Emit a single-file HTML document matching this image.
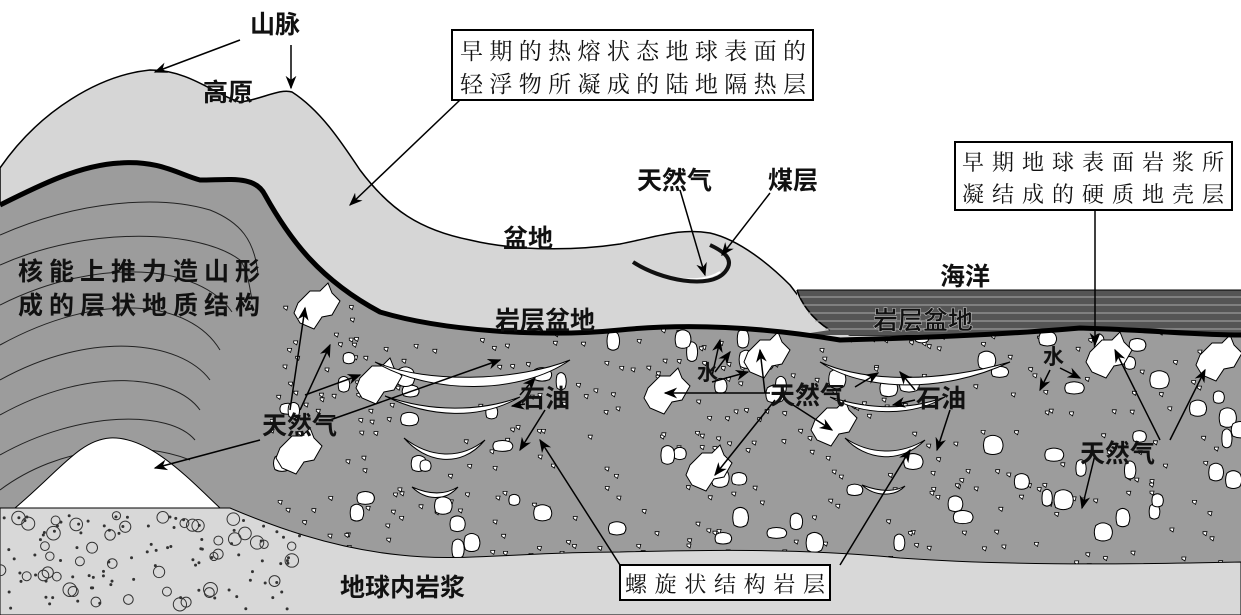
<!DOCTYPE html>
<html><head><meta charset="utf-8"><style>
html,body{margin:0;padding:0;background:#fff}
svg{display:block}
text{font-family:"Liberation Sans","Noto Sans CJK SC",sans-serif;font-weight:bold;fill:#111}
.bx{font-family:"Liberation Serif","Noto Serif CJK SC",serif;font-weight:normal}
</style></head><body>
<svg id="s" width="1241" height="615" viewBox="0 0 1241 615" xmlns="http://www.w3.org/2000/svg">
<defs>
<marker id="a" viewBox="0 0 10 10" refX="9" refY="5" markerWidth="9" markerHeight="9" orient="auto-start-reverse"><path d="M0,1 L10,5 L0,9 L3,5z" fill="#000"/></marker>
<clipPath id="crust"><path d="M270,200 C300,250 330,290 400,318 C460,333 560,336 620,330 C700,322 780,330 840,340 C920,338 1000,335 1080,328 C1150,330 1200,335 1241,335 L1241,562 C1100,565 1000,565 900,558 C800,548 700,550 620,552 C520,552 460,562 400,555 C330,548 270,525 230,508 L270,450z"/></clipPath>
<clipPath id="magc"><path d="M0,508 L230,508 C270,525 330,548 400,555 C460,562 520,552 620,552 L620,615 L0,615z"/></clipPath>
</defs>
<rect width="1241" height="615" fill="#fff"/>
<path d="M0,168 C40,110 100,75 150,70 C190,70 215,95 240,102 C260,100 280,88 292,92 C320,110 340,140 360,170 C390,210 420,230 470,240 C520,252 580,250 620,244 C660,236 680,228 710,233 C740,240 770,265 790,285 C805,305 820,325 850,335 L1241,335 L1241,615 L0,615z" fill="#d6d6d6" stroke="#000" stroke-width="1.5"/>
<rect x="797" y="290" width="444" height="45" fill="#555"/>
<path d="M797,290 C800,300 810,318 830,330 L797,335z" fill="#d6d6d6"/>
<path d="M797,290 C800,300 810,318 830,330" fill="none" stroke="#000" stroke-width="1.5"/>
<g stroke="#aaa" stroke-width="1"><line x1="800" y1="297" x2="1241" y2="297"/><line x1="803" y1="305" x2="1241" y2="305"/><line x1="808" y1="313" x2="1241" y2="313"/><line x1="815" y1="321" x2="1241" y2="321"/><line x1="825" y1="329" x2="1241" y2="329"/></g>
<line x1="797" y1="290" x2="1241" y2="290" stroke="#000"/>
<path d="M0,205 C40,185 80,165 120,163 C160,160 180,175 200,180 C230,180 255,175 265,195 C290,240 320,280 380,312 C440,330 540,338 620,330 C700,322 780,330 840,340 C920,338 1000,335 1080,328 C1150,330 1200,335 1241,335 L1241,562 C1100,565 1000,565 900,558 C800,548 700,550 620,552 C520,552 460,562 400,555 C330,548 270,525 230,508 L0,508z" fill="#9c9c9c"/>
<g fill="none" stroke="#222" stroke-width="1">
<path d="M0,235 C80,200 160,195 210,210 C240,222 255,240 258,275"/>
<path d="M0,265 C90,225 200,230 240,260 C248,270 250,290 252,300"/>
<path d="M0,305 C100,255 200,265 232,312"/>
<path d="M0,345 C100,290 190,300 220,350"/>
<path d="M0,380 C90,330 180,340 210,380"/>
<path d="M0,415 C90,365 175,375 200,410"/>
<path d="M0,455 C80,410 170,410 195,440"/>
<path d="M0,490 C60,445 140,440 190,460"/>
</g>
<g id="rocks" clip-path="url(#crust)"></g>
<path d="M15,508 C60,470 80,440 110,438 C150,436 190,480 220,508z" fill="#fff" stroke="#000"/>
<path d="M0,508 L230,508 C270,525 330,548 400,555 C460,562 520,552 620,552 C700,550 800,548 900,558 C1000,565 1100,565 1241,562 L1241,615 L0,615z" fill="#d8d8d8" stroke="#000" stroke-width="1"/>
<g id="mag" fill="none" stroke="#333" stroke-width="1" clip-path="url(#magc)"></g>
<path d="M0,205 C40,185 80,165 120,163 C160,160 180,175 200,180 C230,180 255,175 265,195 C290,240 320,280 380,312 C440,330 540,338 620,330 C700,322 780,330 840,340 C920,338 1000,335 1080,328 C1150,330 1200,335 1241,335" fill="none" stroke="#000" stroke-width="5"/>
<g fill="#fff" stroke="#000" stroke-width="1">
<path d="M375,362 C430,385 520,380 570,360 C520,395 430,395 375,362z"/>
<path d="M385,396 C430,412 480,412 520,397 C480,420 430,418 385,396z"/>
<path d="M404,438 C430,458 460,460 485,440 C460,470 425,462 404,438z"/>
<path d="M412,487 C430,495 445,495 458,487 C445,502 425,500 412,487z"/>
<path d="M820,362 C860,380 930,385 1010,362 C940,395 860,390 820,362z"/>
<path d="M830,397 C870,410 910,410 945,397 C910,418 860,415 830,397z"/>
<path d="M845,438 C870,455 900,455 925,440 C900,465 865,460 845,438z"/>
<path d="M862,485 C880,492 895,492 905,486 C895,497 875,497 862,485z"/>
</g>
<path d="M633,262 C660,280 700,285 720,272" fill="none" stroke="#fff" stroke-width="2"/>
<path d="M633,262 C660,280 710,290 725,272 C735,260 725,252 710,245" fill="none" stroke="#111" stroke-width="4"/>
<g stroke="#000" stroke-width="1.5" fill="none" marker-end="url(#a)">
<path d="M240,40 L155,72"/><path d="M291,45 L291,88"/>
<path d="M460,100 L350,205"/>
<path d="M1095,210 L1095,345"/>
<path d="M680,190 L705,275"/><path d="M770,193 L722,255"/>
<path d="M290,410 L305,308"/><path d="M300,410 L330,345"/>
<path d="M305,395 L360,375"/><path d="M330,420 L500,360"/>
<path d="M260,440 L155,468"/>
<path d="M520,395 L535,378"/><path d="M525,404 L512,406"/><path d="M545,410 L520,450"/>
<path d="M620,565 L540,440"/>
<path d="M840,565 L910,450"/>
<path d="M770,393 L665,393"/><path d="M765,393 L760,350"/><path d="M775,400 L715,475"/><path d="M790,403 L832,430"/>
<path d="M855,387 L878,373"/><path d="M915,390 L900,372"/><path d="M915,400 L893,405"/><path d="M950,410 L937,450"/>
<path d="M712,376 L720,340"/><path d="M715,372 L730,352"/><path d="M712,382 L748,372"/>
<path d="M1050,370 L1040,390"/><path d="M1060,368 L1080,378"/>
<path d="M1160,440 L1115,350"/><path d="M1170,440 L1205,370"/>
<path d="M1095,455 L1082,508"/>
</g>
<rect x="452" y="30" width="361" height="70" fill="#fff" stroke="#000" stroke-width="2"/>
<text class="bx" x="460" y="59" font-size="23" textLength="346">早期的热熔状态地球表面的</text>
<text class="bx" x="460" y="92" font-size="23" textLength="346">轻浮物所凝成的陆地隔热层</text>
<rect x="955" y="142" width="277" height="68" fill="#fff" stroke="#000" stroke-width="2"/>
<text class="bx" x="962" y="170" font-size="22" textLength="262">早期地球表面岩浆所</text>
<text class="bx" x="962" y="202" font-size="22" textLength="262">凝结成的硬质地壳层</text>
<rect x="620" y="565" width="210" height="35" fill="#fff" stroke="#000" stroke-width="2"/>
<text class="bx" x="625" y="592" font-size="22" textLength="200">螺旋状结构岩层</text>
<g font-size="25">
<text x="250" y="33">山脉</text>
<text x="203" y="101">高原</text>
<text x="503" y="247">盆地</text>
<text x="637" y="189">天然气</text>
<text x="768" y="189">煤层</text>
<text x="940" y="285">海洋</text>
<text x="18" y="280" textLength="242">核能上推力造山形</text>
<text x="18" y="314" textLength="242">成的层状地质结构</text>
<text x="495" y="329">岩层盆地</text>
<text x="873" y="329" fill="#222" stroke="#bbb" stroke-width="0.6">岩层盆地</text>
<text x="262" y="434">天然气</text>
<text x="520" y="407">石油</text>
<text x="770" y="404">天然气</text>
<text x="916" y="407">石油</text>
<text x="1080" y="462">天然气</text>
<text x="697" y="380" font-size="21">水</text>
<text x="1043" y="364" font-size="21">水</text>
<text x="340" y="596">地球内岩浆</text>
</g>
</svg>
<script>
(function(){
var seed=7;function r(){seed=(seed*9301+49297)%233280;return seed/233280;}
var g=document.getElementById('rocks'),m=document.getElementById('mag'),s="";
for(var i=0;i<380;i++){var x=270+r()*971,y=300+r()*265;s+='<path d="M'+x.toFixed(1)+','+y.toFixed(1)+' l4,0 l-1,4 l-3,-2z" fill="#fff" stroke="#000" stroke-width="0.8"/>';}
for(var i=0;i<80;i++){var x=270+r()*971,y=330+r()*220,w=8+r()*8,h=8+r()*7;
s+='<path d="M'+x+','+y+' q'+w/2+','+(-h*0.4)+' '+w+',0 q'+w*0.3+','+h/2+' 0,'+h+' q'+(-w/2)+','+h*0.3+' '+(-w)+',0 q'+(-w*0.2)+','+(-h/2)+' 0,'+(-h)+'z" fill="#fff" stroke="#000" stroke-width="1"/>';}
var big=[[298,293],[360,368],[648,378],[748,342],[815,410],[690,455],[1090,342],[1200,345],[280,438]];
big.forEach(function(p){var x=p[0],y=p[1];s+='<path d="M'+x+','+(y+10)+' l12,-12 l10,0 l8,-8 l4,10 l8,8 l-8,14 l-10,2 l-8,12 l-14,-6 l-6,-10z" fill="#fff" stroke="#000"/>';});
g.innerHTML=s;var t="";
for(var i=0;i<140;i++){var x=r()*300,y=515+r()*95;t+= r()<0.35?'<circle cx="'+x+'" cy="'+y+'" r="'+(4+r()*3)+'"/>':'<circle cx="'+x+'" cy="'+y+'" r="1" fill="#333"/>';}
m.innerHTML=t;
})();
</script>
</body></html>
